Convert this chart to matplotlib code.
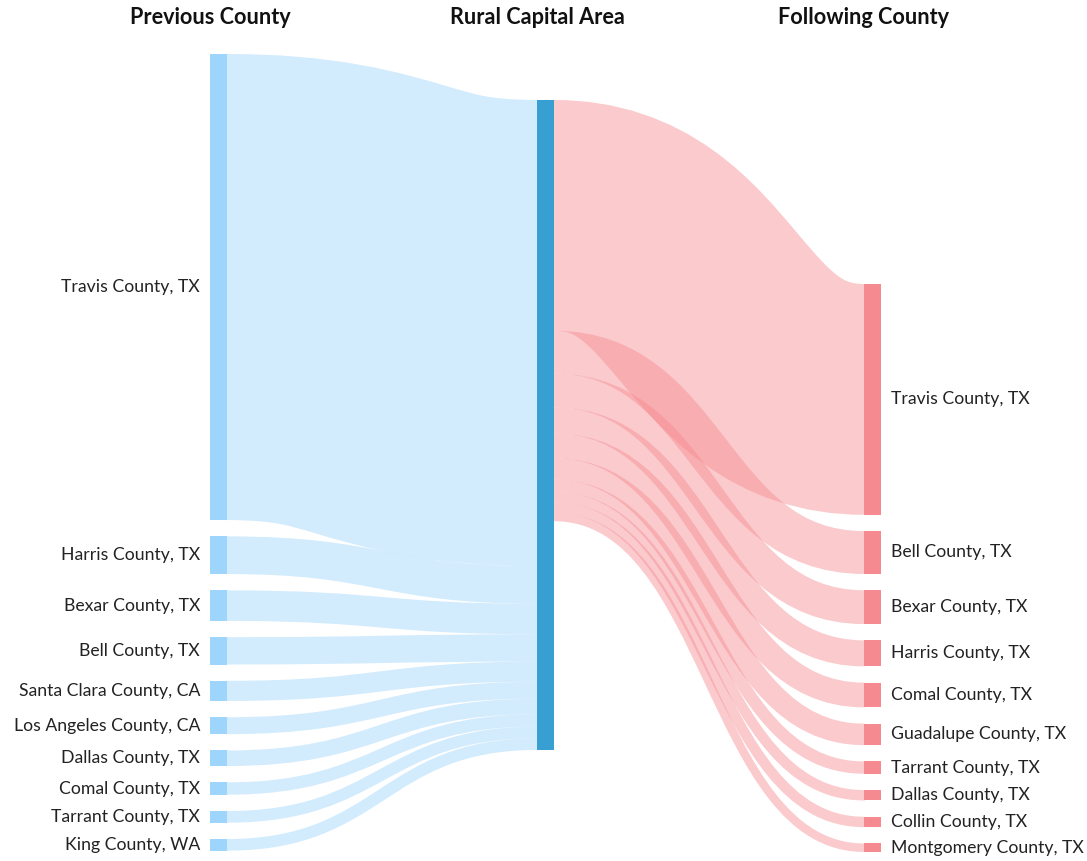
import matplotlib
matplotlib.use("Agg")
import matplotlib.pyplot as plt
from matplotlib.path import Path
from matplotlib.patches import PathPatch, Rectangle

plt.rcParams['font.family'] = ['Lato', 'DejaVu Sans']

# data: movers into / out of the Rural Capital Area
prev_counties = ["Travis County, TX", "Harris County, TX", "Bexar County, TX", "Bell County, TX",
                 "Santa Clara County, CA", "Los Angeles County, CA", "Dallas County, TX",
                 "Comal County, TX", "Tarrant County, TX", "King County, WA"]
prev_values = [717, 58, 47, 42, 31, 26, 24, 19, 18, 18]

next_counties = ["Travis County, TX", "Bell County, TX", "Bexar County, TX", "Harris County, TX",
                 "Comal County, TX", "Guadalupe County, TX", "Tarrant County, TX",
                 "Dallas County, TX", "Collin County, TX", "Montgomery County, TX"]
next_values = [355, 66, 52, 40, 38, 33, 19, 16, 16, 13]

titles = ["Previous County", "Rural Capital Area", "Following County"]

# layout (pixels)
W, H = 1087, 861
scale = 0.65          # px per person
node_w = 17
gap = 16.3
col_x = [210, 537, 864]
left_top, mid_top, right_top = 54, 100, 284

c_left_node = "#9dd5fc"
c_mid_node = "#389fd3"
c_right_node = "#f68a91"
link_alpha = 0.45
txt = "#222222"

fig = plt.figure(figsize=(W / 100, H / 100), dpi=100)
ax = fig.add_axes([0, 0, 1, 1])
ax.set_xlim(0, W)
ax.set_ylim(H, 0)
ax.axis("off")


def link(x0, y0, x1, y1, width, color):
    # d3-style link: thick stroke along a horizontal bezier
    # (runs 1px under the nodes so no seam shows)
    xm = (x0 + x1) / 2
    p = Path([(x0 - 1, y0), (x0, y0), (xm, y0), (xm, y1), (x1, y1), (x1 + 1, y1)],
             [Path.MOVETO, Path.LINETO, Path.CURVE4, Path.CURVE4, Path.CURVE4, Path.LINETO])
    ax.add_patch(PathPatch(p, fill=False, edgecolor=color, alpha=link_alpha,
                           lw=width * 72 / 100, capstyle="butt", zorder=1))


def node(x, y, h, color):
    ax.add_patch(Rectangle((x, y), node_w, h, facecolor=color, edgecolor="none", zorder=3))


# left column -> middle
y = left_top
ym = mid_top
for name, v in zip(prev_counties, prev_values):
    h = v * scale
    node(col_x[0], y, h, c_left_node)
    link(col_x[0] + node_w, y + h / 2, col_x[1], ym + h / 2, h, c_left_node)
    ax.text(col_x[0] - 10, y + h / 2, name, ha="right", va="center", fontsize=12.7, color=txt)
    y += h + gap
    ym += h
mid_h = ym - mid_top

# middle -> right column
y = right_top
ym = mid_top
for name, v in zip(next_counties, next_values):
    h = v * scale
    node(col_x[2], y, h, c_right_node)
    link(col_x[1] + node_w, ym + h / 2, col_x[2], y + h / 2, h, c_right_node)
    ax.text(col_x[2] + node_w + 10, y + h / 2, name, ha="left", va="center", fontsize=12.7, color=txt)
    y += h + gap
    ym += h

node(col_x[1], mid_top, mid_h, c_mid_node)

for x, t in zip(col_x, titles):
    ax.text(x, 18, t, ha="center", va="center", fontsize=15.6, fontweight="bold", color="#111111")

fig.savefig("out.png", dpi=100)
